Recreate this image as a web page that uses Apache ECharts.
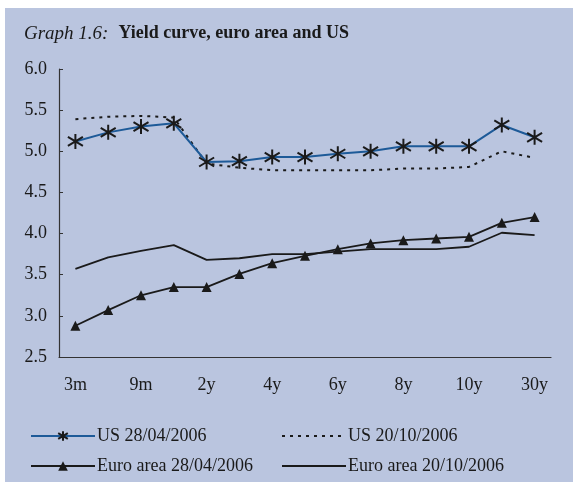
<!DOCTYPE html>
<html>
<head>
<meta charset="utf-8">
<script src="https://cdn.jsdelivr.net/npm/echarts@6/dist/echarts.min.js"></script>
<style>
  html, body { margin: 0; padding: 0; background: #ffffff; }
  #chart { width: 573px; height: 482px; }
</style>
</head>
<body>
<div id="chart"></div>
<script>
const maturities = ['3m', '6m', '9m', '1y', '2y', '3y', '4y', '5y', '6y', '7y', '8y', '9y', '10y', '20y', '30y'];
const us20060428 = [5.12, 5.23, 5.30, 5.34, 4.87, 4.88, 4.93, 4.93, 4.97, 5.00, 5.06, 5.06, 5.06, 5.32, 5.17];
const us20061020 = [5.39, 5.42, 5.43, 5.41, 4.85, 4.80, 4.77, 4.77, 4.77, 4.77, 4.79, 4.79, 4.81, 5.00, 4.92];
const euro20060428 = [2.88, 3.07, 3.25, 3.35, 3.35, 3.51, 3.64, 3.73, 3.81, 3.88, 3.92, 3.94, 3.96, 4.13, 4.20];
const euro20061020 = [3.57, 3.71, 3.79, 3.86, 3.68, 3.70, 3.75, 3.75, 3.78, 3.81, 3.81, 3.81, 3.84, 4.01, 3.98];

const font = '"Liberation Serif", "Times New Roman", serif';
const starPath = 'path://M0,-10L0,10M-9,-6L9,6M-9,6L9,-6';
const noSymbol = { color: 'transparent', borderWidth: 0 };

const chart = echarts.init(document.getElementById('chart'));

chart.setOption({
    backgroundColor: '#ffffff',
    graphic: [{
        type: 'rect',
        z: -10,
        shape: { x: 5, y: 8, width: 568, height: 474 },
        style: { fill: '#bac5df' }
    }],
    title: {
        text: '{i|Graph 1.6:}  {b|Yield curve, euro area and US}',
        left: 19,
        top: 19,
        textStyle: {
            rich: {
                i: { fontFamily: font, fontStyle: 'italic', fontWeight: 'normal', fontSize: 19, color: '#1a1a1a' },
                b: { fontFamily: font, fontWeight: 'bold', fontSize: 18, color: '#1a1a1a' }
            }
        }
    },
    grid: { left: 59, right: 22, top: 69, bottom: 125 },
    xAxis: {
        type: 'category',
        data: maturities,
        boundaryGap: true,
        axisLine: { lineStyle: { color: '#333', width: 1.2 } },
        axisTick: { inside: true, interval: 0, length: 5, lineStyle: { color: '#333' } },
        axisLabel: { interval: 1, margin: 19, fontFamily: font, fontSize: 18, color: '#1a1a1a' }
    },
    yAxis: {
        type: 'value',
        min: 2.5,
        max: 6.0,
        interval: 0.5,
        axisLine: { show: true, lineStyle: { color: '#333', width: 1.2 } },
        axisTick: { show: true, inside: true, length: 4, lineStyle: { color: '#333' } },
        splitLine: { show: false },
        axisLabel: {
            margin: 12,
            fontFamily: font,
            fontSize: 18,
            color: '#1a1a1a',
            formatter: v => v.toFixed(1)
        }
    },
    legend: [{
        data: ['US 28/04/2006', 'Euro area 28/04/2006'],
        orient: 'vertical',
        left: 25,
        top: 422,
        itemWidth: 64,
        itemHeight: 12,
        itemGap: 12,
        textStyle: { fontFamily: font, fontSize: 18, color: '#1a1a1a', padding: [0, 0, 0, -3] }
    }, {
        data: [
            { name: 'US 20/10/2006', itemStyle: noSymbol },
            { name: 'Euro area 20/10/2006', itemStyle: noSymbol }
        ],
        orient: 'vertical',
        left: 276,
        top: 422,
        itemWidth: 64,
        itemHeight: 12,
        itemGap: 12,
        textStyle: { fontFamily: font, fontSize: 18, color: '#1a1a1a', padding: [0, 0, 0, -3] }
    }],
    series: [{
        name: 'US 28/04/2006',
        type: 'line',
        data: us20060428,
        symbol: starPath,
        symbolSize: 15,
        lineStyle: { color: '#1d5a98', width: 2 },
        itemStyle: { color: '#1a1a1a', borderColor: '#1a1a1a', borderWidth: 2 },
        z: 5
    }, {
        name: 'US 20/10/2006',
        type: 'line',
        data: us20061020,
        symbol: 'none',
        lineStyle: { color: '#1a1a1a', width: 2, type: [3, 5] },
        itemStyle: { color: '#1a1a1a' }
    }, {
        name: 'Euro area 28/04/2006',
        type: 'line',
        data: euro20060428,
        symbol: 'triangle',
        symbolSize: 10,
        lineStyle: { color: '#1a1a1a', width: 1.8 },
        itemStyle: { color: '#1a1a1a' }
    }, {
        name: 'Euro area 20/10/2006',
        type: 'line',
        data: euro20061020,
        symbol: 'none',
        lineStyle: { color: '#1a1a1a', width: 1.8 },
        itemStyle: { color: '#1a1a1a' }
    }]
});
</script>
</body>
</html>
